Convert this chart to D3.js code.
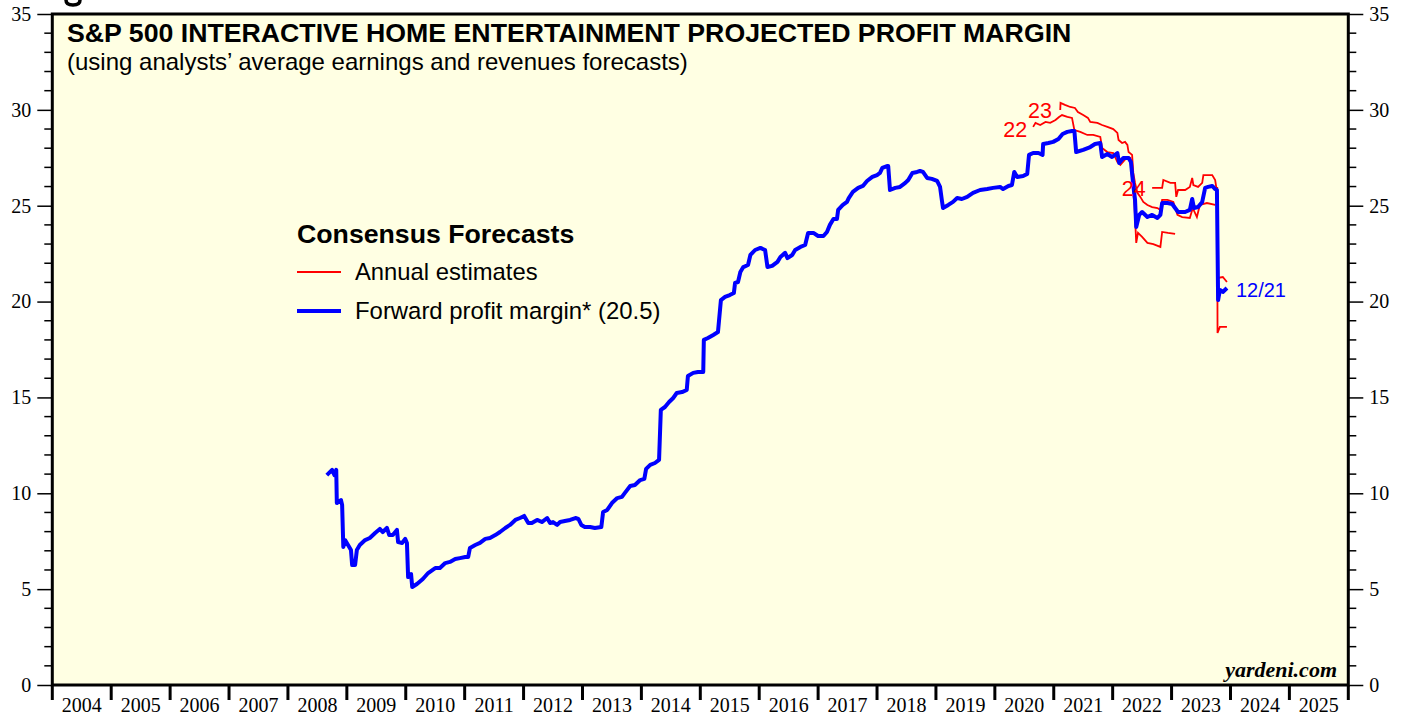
<!DOCTYPE html>
<html><head><meta charset="utf-8">
<script src="https://cdn.jsdelivr.net/npm/d3@7"></script>
<style>html,body{margin:0;padding:0;background:#fff;}svg{display:block;}</style>
</head><body>
<svg id="chart" width="1407" height="717"></svg>
<script>
const yearTicks = d3.range(2004, 2027);
const yearLabels = d3.range(2004, 2026);
const valueTicks = [0, 5, 10, 15, 20, 25, 30, 35];

const forwardMargin = [
[2008.66,10.95],[2008.75,11.22],[2008.79,10.95],[2008.82,11.22],[2008.83,9.49],[2008.90,9.65],[2008.92,9.39],[2008.94,7.20],[2008.97,7.56],[2009.02,7.30],[2009.07,7.04],[2009.09,6.26],[2009.14,6.26],[2009.17,7.04],[2009.22,7.30],[2009.31,7.56],[2009.39,7.67],[2009.48,7.93],[2009.56,8.14],[2009.61,7.98],[2009.68,8.19],[2009.72,7.82],[2009.78,7.82],[2009.85,8.09],[2009.87,7.46],[2009.94,7.41],[2009.99,7.62],[2010.02,7.41],[2010.04,5.63],[2010.09,5.79],[2010.11,5.11],[2010.19,5.27],[2010.29,5.53],[2010.38,5.84],[2010.50,6.10],[2010.58,6.10],[2010.67,6.36],[2010.75,6.42],[2010.84,6.57],[2010.92,6.62],[2011.01,6.68],[2011.06,6.68],[2011.09,7.15],[2011.18,7.30],[2011.26,7.41],[2011.35,7.62],[2011.43,7.67],[2011.52,7.82],[2011.60,7.98],[2011.69,8.19],[2011.77,8.35],[2011.86,8.61],[2011.94,8.71],[2012.01,8.82],[2012.08,8.45],[2012.14,8.45],[2012.23,8.61],[2012.31,8.50],[2012.40,8.71],[2012.45,8.45],[2012.50,8.50],[2012.57,8.35],[2012.62,8.50],[2012.70,8.55],[2012.79,8.61],[2012.88,8.71],[2012.93,8.66],[2012.98,8.35],[2013.04,8.24],[2013.13,8.24],[2013.21,8.19],[2013.32,8.24],[2013.35,9.02],[2013.42,9.13],[2013.50,9.49],[2013.59,9.75],[2013.67,9.81],[2013.72,10.02],[2013.81,10.38],[2013.89,10.43],[2013.98,10.69],[2014.05,10.75],[2014.08,11.27],[2014.15,11.48],[2014.23,11.58],[2014.30,11.74],[2014.33,14.35],[2014.40,14.50],[2014.47,14.76],[2014.54,14.97],[2014.60,15.23],[2014.69,15.28],[2014.77,15.39],[2014.79,16.12],[2014.88,16.28],[2014.96,16.33],[2015.05,16.33],[2015.06,18.00],[2015.13,18.10],[2015.22,18.26],[2015.30,18.41],[2015.35,20.08],[2015.42,20.24],[2015.50,20.34],[2015.57,20.45],[2015.59,20.97],[2015.64,21.02],[2015.68,21.54],[2015.73,21.80],[2015.81,21.91],[2015.85,22.43],[2015.93,22.69],[2016.02,22.80],[2016.10,22.69],[2016.14,21.80],[2016.22,21.86],[2016.31,22.07],[2016.36,22.33],[2016.44,22.54],[2016.48,22.27],[2016.56,22.43],[2016.61,22.69],[2016.70,22.85],[2016.78,22.95],[2016.83,23.58],[2016.92,23.58],[2017.00,23.42],[2017.09,23.42],[2017.15,23.63],[2017.20,24.00],[2017.26,24.31],[2017.32,24.31],[2017.34,24.78],[2017.42,25.04],[2017.49,25.20],[2017.52,25.40],[2017.59,25.72],[2017.68,25.93],[2017.76,26.03],[2017.83,26.29],[2017.92,26.50],[2018.00,26.60],[2018.05,26.71],[2018.09,26.97],[2018.17,27.07],[2018.19,27.07],[2018.22,25.82],[2018.31,25.93],[2018.39,25.98],[2018.48,26.19],[2018.53,26.34],[2018.60,26.71],[2018.68,26.76],[2018.73,26.81],[2018.78,26.76],[2018.85,26.45],[2018.93,26.40],[2019.02,26.29],[2019.07,25.98],[2019.10,25.30],[2019.12,24.88],[2019.21,25.04],[2019.29,25.20],[2019.36,25.40],[2019.44,25.35],[2019.53,25.46],[2019.63,25.67],[2019.75,25.82],[2019.87,25.87],[2019.97,25.93],[2020.09,25.98],[2020.14,25.87],[2020.23,26.03],[2020.29,26.08],[2020.33,26.76],[2020.38,26.50],[2020.48,26.55],[2020.55,26.66],[2020.58,27.65],[2020.65,27.75],[2020.74,27.75],[2020.81,27.65],[2020.82,28.22],[2020.91,28.27],[2020.99,28.33],[2021.08,28.48],[2021.15,28.74],[2021.23,28.85],[2021.31,28.90],[2021.35,28.90],[2021.38,27.80],[2021.50,27.91],[2021.62,28.06],[2021.70,28.22],[2021.79,28.27],[2021.82,27.54],[2021.91,27.70],[2021.99,27.54],[2022.08,27.75],[2022.11,27.23],[2022.18,27.49],[2022.27,27.49],[2022.31,27.28],[2022.35,26.08],[2022.38,25.30],[2022.40,23.89],[2022.45,24.52],[2022.50,24.67],[2022.59,24.41],[2022.67,24.52],[2022.76,24.36],[2022.81,24.52],[2022.84,25.14],[2022.93,25.14],[2023.01,25.09],[2023.06,24.88],[2023.11,24.67],[2023.23,24.67],[2023.31,24.78],[2023.35,25.35],[2023.38,24.88],[2023.45,24.93],[2023.52,25.20],[2023.57,25.93],[2023.62,25.98],[2023.69,26.03],[2023.74,25.87],[2023.77,25.82],[2023.79,20.08],[2023.82,20.61],[2023.87,20.50],[2023.94,20.71]
];

const est22 = [
[2020.65,29.11],[2020.69,29.32],[2020.77,29.21],[2020.86,29.37],[2020.94,29.32],[2021.03,29.47],[2021.09,29.63],[2021.14,29.73],[2021.23,29.63],[2021.31,29.58],[2021.35,28.95],[2021.45,28.85],[2021.57,28.69],[2021.67,28.69],[2021.79,28.59],[2021.82,28.01],[2021.91,27.80],[2022.01,27.75],[2022.08,27.28],[2022.13,27.13],[2022.25,27.54],[2022.30,27.49],[2022.33,26.34],[2022.37,25.04],[2022.40,23.06],[2022.43,23.58],[2022.50,23.37],[2022.59,23.06],[2022.69,23.00],[2022.81,22.85],[2022.84,23.63],[2022.94,23.58],[2023.06,23.53]
];
const est23 = [
[2021.11,29.99],[2021.115,30.36],[2021.19,30.26],[2021.28,30.15],[2021.36,30.10],[2021.41,29.89],[2021.50,29.73],[2021.58,29.58],[2021.62,29.37],[2021.74,29.32],[2021.82,29.21],[2021.91,29.11],[2022.01,29.00],[2022.08,28.80],[2022.10,28.43],[2022.16,28.27],[2022.21,28.33],[2022.25,28.17],[2022.27,27.80],[2022.33,27.65],[2022.35,26.71],[2022.38,26.19],[2022.42,25.67],[2022.47,25.46],[2022.52,25.20],[2022.59,25.04],[2022.67,24.93],[2022.76,24.88],[2022.81,24.78],[2022.84,25.30],[2022.93,25.30],[2023.03,25.20],[2023.10,24.52],[2023.18,24.41],[2023.31,24.36],[2023.36,24.88],[2023.43,24.41],[2023.48,25.04],[2023.60,25.14],[2023.74,25.04]
];
const est24 = [
[2022.67,25.93],[2022.84,25.93],[2022.86,26.34],[2022.98,26.19],[2023.06,26.19],[2023.08,25.46],[2023.11,25.82],[2023.23,25.82],[2023.31,25.98],[2023.35,26.45],[2023.37,26.08],[2023.45,25.98],[2023.52,26.19],[2023.54,26.60],[2023.69,26.60],[2023.74,26.34],[2023.76,25.93],[2023.775,25.93],[2023.78,18.36],[2023.82,18.68],[2023.94,18.68]
];
const est25 = [
[2023.78,21.23],[2023.87,21.28],[2023.94,21.02]
];
const estimateLabels = [
  {text: "22", year: 2020.55, value: 28.6},
  {text: "23", year: 2020.97, value: 29.58},
  {text: "24", year: 2022.56, value: 25.5}
];

const W = 1407, H = 717;
const L = 52.3, R = 1348.3, T = 14, B = 685;
const svg = d3.select("#chart");
const x = d3.scaleLinear().domain([2004, 2026]).range([L, R]);
const y = d3.scaleLinear().domain([0, 35]).range([B, T]);

// cropped glyph fragment above the frame (drawn as a shape)
svg.append("path").attr("d", "M66,0 Q66,5 73,5 Q80,5 80,0").attr("fill", "none")
  .attr("stroke", "#000").attr("stroke-width", 3.5);

svg.append("rect").attr("x", L).attr("y", T).attr("width", R - L).attr("height", B - T)
  .attr("fill", "#FFFFE3");

const serif = "'Liberation Serif','DejaVu Serif',serif";
const sans = "'Liberation Sans',Arial,sans-serif";
const leftAxis = d3.axisLeft(y).tickValues(valueTicks).tickSize(15).tickPadding(6).tickFormat(d3.format("d"));
const rightAxis = d3.axisRight(y).tickValues(valueTicks).tickSize(15).tickPadding(6).tickFormat(d3.format("d"));
const minorTicks = d3.range(0, 36).filter(v => v % 5 !== 0);

const gl = svg.append("g").attr("transform", `translate(${L},0)`).call(leftAxis);
const gr = svg.append("g").attr("transform", `translate(${R},0)`).call(rightAxis);
[gl, gr].forEach(g => {
  g.select(".domain").remove();
  g.selectAll(".tick line").attr("stroke", "#000").attr("stroke-width", 1.5);
  g.selectAll(".tick text").attr("font-family", serif).attr("font-size", 20).attr("fill", "#000");
});
gl.selectAll(".minor").data(minorTicks).enter().append("line")
  .attr("x1", -8).attr("x2", 0).attr("y1", d => y(d)).attr("y2", d => y(d))
  .attr("stroke", "#000").attr("stroke-width", 1.5);
gr.selectAll(".minor").data(minorTicks).enter().append("line")
  .attr("x1", 0).attr("x2", 8).attr("y1", d => y(d)).attr("y2", d => y(d))
  .attr("stroke", "#000").attr("stroke-width", 1.5);

const gb = svg.append("g").attr("transform", `translate(0,${B})`);
gb.selectAll("line.yt").data(yearTicks).enter().append("line")
  .attr("x1", d => x(d)).attr("x2", d => x(d)).attr("y1", 0).attr("y2", 15)
  .attr("stroke", "#000").attr("stroke-width", 3);
gb.selectAll("text").data(yearLabels).enter().append("text")
  .attr("x", d => x(d + 0.5)).attr("y", 27).attr("text-anchor", "middle")
  .attr("font-family", serif).attr("font-size", 20).text(d => d);

svg.append("rect").attr("x", L).attr("y", T).attr("width", R - L).attr("height", B - T)
  .attr("fill", "none").attr("stroke", "#000").attr("stroke-width", 3);

const line = d3.line().x(d => x(d[0])).y(d => y(d[1]));
const plot = svg.append("g");
[est22, est23, est24, est25].forEach(s => {
  plot.append("path").datum(s).attr("d", line).attr("fill", "none")
    .attr("stroke", "#FF0000").attr("stroke-width", 1.8);
});
plot.append("path").datum(forwardMargin).attr("d", line).attr("fill", "none")
  .attr("stroke", "#0000FF").attr("stroke-width", 4).attr("stroke-linejoin", "round");

plot.selectAll(".elab").data(estimateLabels).enter().append("text")
  .attr("x", d => x(d.year)).attr("y", d => y(d.value)).attr("text-anchor", "end")
  .attr("font-family", sans).attr("font-size", 21.5).attr("fill", "#FF0000").text(d => d.text);

const last = forwardMargin[forwardMargin.length - 1];
plot.append("text").attr("x", x(last[0]) + 9).attr("y", y(last[1]) + 9)
  .attr("font-family", sans).attr("font-size", 20).attr("fill", "#0000FF").text("12/21");

svg.append("text").attr("x", 67).attr("y", 42).attr("font-family", sans).attr("font-weight", "bold")
  .attr("font-size", 26.7).text("S&P 500 INTERACTIVE HOME ENTERTAINMENT PROJECTED PROFIT MARGIN");
svg.append("text").attr("x", 67).attr("y", 70).attr("font-family", sans)
  .attr("font-size", 24).text("(using analysts\u2019 average earnings and revenues forecasts)");

const lg = svg.append("g");
lg.append("text").attr("x", 297).attr("y", 243).attr("font-family", sans).attr("font-weight", "bold")
  .attr("font-size", 26.7).text("Consensus Forecasts");
lg.append("line").attr("x1", 297).attr("x2", 341).attr("y1", 272).attr("y2", 272)
  .attr("stroke", "#FF0000").attr("stroke-width", 1.8);
lg.append("text").attr("x", 355).attr("y", 280).attr("font-family", sans).attr("font-size", 23.8).text("Annual estimates");
lg.append("line").attr("x1", 297).attr("x2", 341).attr("y1", 311).attr("y2", 311)
  .attr("stroke", "#0000FF").attr("stroke-width", 4);
lg.append("text").attr("x", 355).attr("y", 319).attr("font-family", sans).attr("font-size", 23.9).text("Forward profit margin* (20.5)");

svg.append("text").attr("x", 1337).attr("y", 677).attr("text-anchor", "end")
  .attr("font-family", serif).attr("font-weight", "bold").attr("font-style", "italic")
  .attr("font-size", 22).text("yardeni.com");
</script>
</body></html>
